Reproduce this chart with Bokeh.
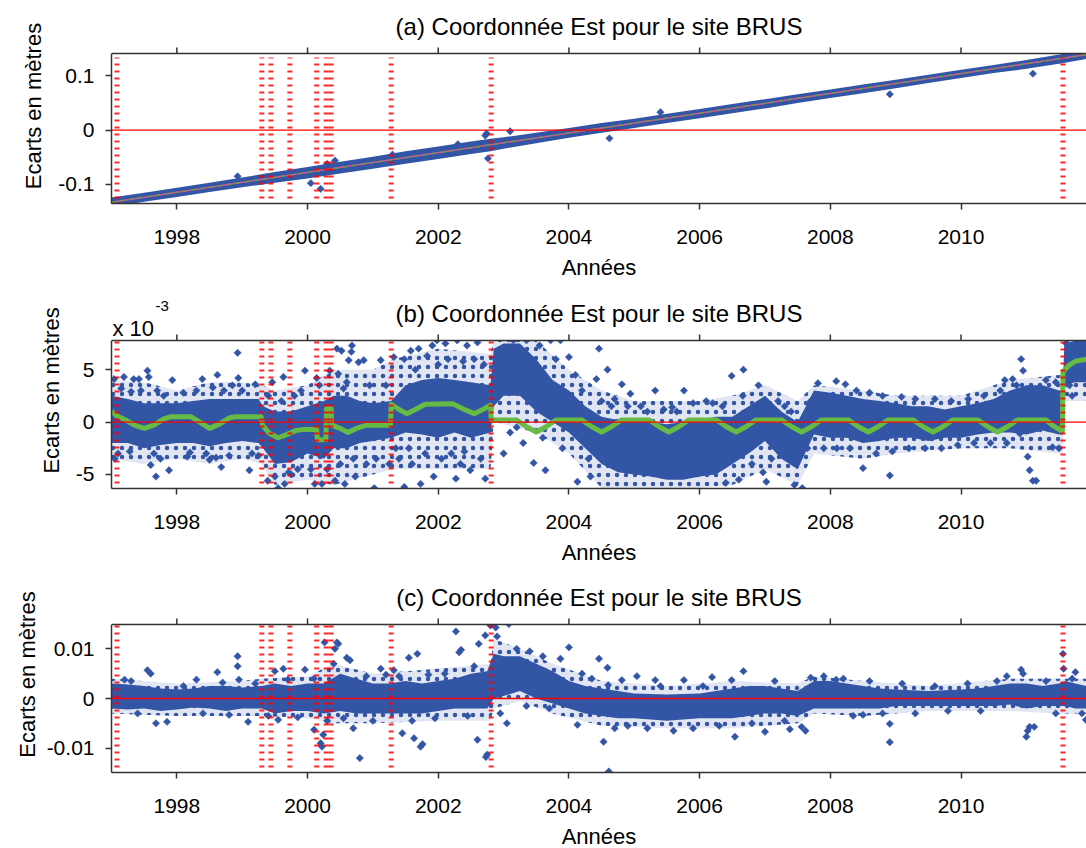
import numpy as np
from bokeh.plotting import figure
from bokeh.models import FixedTicker, Range1d, Span
from bokeh.core.properties import value
from bokeh.layouts import column
from bokeh.embed import file_html
from bokeh.resources import INLINE

# ---------------- data ----------------
TITLE = "Coordonnée Est pour le site BRUS"
X_LABEL = "Années"
Y_LABEL = "Ecarts en mètres"
X_START, X_END = 1997.0, 2011.92
YEAR_TICKS = [1998, 2000, 2002, 2004, 2006, 2008, 2010]
# dates of discontinuities (red dashed verticals)
EPOCHS = [1997.084, 1999.30, 1999.44, 1999.73, 2000.14, 2000.285, 2000.36, 2001.28, 2002.81, 2011.56]

# panel (a) : metres
A_Y = (-0.135, 0.1411)
A_TICKS = [-0.1, 0, 0.1]
A_TICK_LABELS = ["-0.1", "0", "0.1"]
A_TREND = [(1997.0, -0.1325), (2011.92, 0.139)]
A_CORE = [  # (year, low, high) of dense cloud
    (1997.0, -0.141, -0.124), (1997.5, -0.132, -0.115), (1998.0, -0.123, -0.106),
    (1998.5, -0.114, -0.097), (1999.0, -0.105, -0.087), (1999.5, -0.097, -0.077),
    (2000.0, -0.089, -0.068), (2000.5, -0.080, -0.058), (2001.0, -0.071, -0.049),
    (2001.5, -0.062, -0.039), (2002.0, -0.053, -0.030), (2002.5, -0.044, -0.021),
    (2002.8, -0.039, -0.016), (2003.0, -0.034, -0.013), (2003.5, -0.024, -0.005),
    (2004.0, -0.014, 0.004), (2004.5, -0.005, 0.013), (2005.0, 0.004, 0.021),
    (2005.5, 0.013, 0.030), (2006.0, 0.022, 0.039), (2006.5, 0.031, 0.048),
    (2007.0, 0.040, 0.057), (2007.5, 0.050, 0.066), (2008.0, 0.059, 0.075),
    (2008.5, 0.068, 0.084), (2009.0, 0.077, 0.093), (2009.5, 0.087, 0.102),
    (2010.0, 0.096, 0.111), (2010.5, 0.105, 0.120), (2011.0, 0.113, 0.129),
    (2011.55, 0.123, 0.140), (2011.92, 0.131, 0.147),
]
A_PTS = [(1997.0, -0.134), (2000.05, -0.0975), (2000.2, -0.108), (2000.3, -0.062),
         (2002.74, -0.006), (2002.76, -0.052), (2002.72, -0.010), (2003.1, -0.002),
         (2004.62, -0.015), (2008.91, 0.066), (2011.1, 0.104), (2000.42, -0.056),
         (2001.3, -0.045), (1998.93, -0.085), (2002.3, -0.026), (2005.4, 0.033)]

# panel (b) : units of 1e-3 m
B_Y = (-6.34, 7.78)
B_TICKS = [-5, 0, 5]
B_TICK_LABELS = ["-5", "0", "5"]
B_CORE = [
    (1997.0, -2.0, 2.5), (1997.25, -2.0, 2.2), (1997.5, -2.5, 1.8), (1997.75, -2.2, 1.8),
    (1998.0, -2.0, 1.8), (1998.25, -2.0, 2.0), (1998.5, -2.3, 2.2), (1998.75, -2.0, 2.2),
    (1999.0, -1.8, 2.2), (1999.25, -2.0, 2.2), (1999.32, -2.5, 1.5), (1999.5, -4.0, 1.0),
    (1999.75, -3.8, 1.0), (2000.0, -3.0, 1.5), (2000.25, -3.5, 2.0), (2000.4, -2.5, 2.5),
    (2000.6, -2.5, 2.5), (2000.8, -2.0, 2.0), (2001.0, -1.8, 1.8), (2001.28, -1.5, 2.0),
    (2001.5, -1.0, 3.5), (2001.75, -1.2, 4.0), (2002.0, -1.5, 4.2), (2002.25, -1.0, 4.0),
    (2002.5, -1.5, 3.8), (2002.8, -1.0, 3.5), (2002.85, 1.5, 7.0), (2003.0, 2.5, 7.5),
    (2003.25, 2.5, 7.5), (2003.5, 1.0, 6.0), (2003.75, 0.0, 4.0), (2004.0, -1.0, 3.0),
    (2004.25, -2.5, 1.5), (2004.5, -4.0, 0.5), (2004.75, -4.8, 0.2), (2005.0, -5.0, 0.0),
    (2005.25, -5.2, 0.0), (2005.5, -5.5, -0.2), (2005.75, -5.5, 0.0), (2006.0, -5.2, 0.2),
    (2006.25, -5.0, 0.5), (2006.5, -4.0, 0.5), (2006.75, -3.0, 1.5), (2007.0, -1.8, 2.5),
    (2007.25, -3.5, 1.0), (2007.5, -4.5, 0.0), (2007.75, -1.2, 3.0), (2008.0, -1.5, 2.8),
    (2008.25, -1.5, 2.5), (2008.5, -2.0, 2.2), (2008.75, -1.8, 2.0), (2009.0, -1.5, 1.8),
    (2009.25, -1.5, 1.5), (2009.5, -1.8, 1.5), (2009.75, -1.5, 1.2), (2010.0, -1.5, 1.5),
    (2010.25, -1.2, 1.8), (2010.5, -1.0, 2.2), (2010.75, -1.0, 3.0), (2011.0, -1.2, 3.5),
    (2011.25, -0.8, 3.5), (2011.5, -1.2, 3.0), (2011.56, -1.2, 3.0), (2011.58, 3.5, 7.5),
    (2011.75, 3.8, 7.75), (2011.92, 3.8, 7.75),
]
B_HALO = [  # looser part of the cloud
    (1997.0, -3.5, 4.0), (1997.5, -4.0, 3.8), (1998.0, -3.5, 3.0), (1998.5, -4.0, 3.8),
    (1999.0, -3.5, 3.8), (1999.3, -4.0, 3.5), (1999.5, -6.0, 3.0), (2000.0, -5.5, 3.5),
    (2000.4, -6.0, 5.0), (2001.0, -5.0, 5.0), (2001.3, -4.5, 6.0), (2002.0, -4.5, 7.0),
    (2002.8, -4.5, 6.5), (2002.85, 0.0, 7.75), (2003.5, -1.0, 7.75), (2004.0, -3.0, 5.0),
    (2004.5, -6.3, 3.0), (2005.0, -6.3, 2.0), (2006.0, -6.3, 2.0), (2006.5, -6.0, 2.5),
    (2007.0, -4.5, 3.5), (2007.5, -6.0, 2.0), (2007.75, -3.0, 3.5), (2008.5, -3.5, 3.0),
    (2009.0, -3.0, 2.5), (2010.0, -2.5, 2.5), (2010.75, -2.5, 4.0), (2011.5, -3.0, 4.5),
    (2011.56, -3.0, 4.5), (2011.58, 2.0, 7.75), (2011.92, 2.0, 7.75),
]
B_MODEL = [  # green model curve
    (1997.0, 1.0), (1997.08, 0.6), (1997.2, 0.25), (1997.35, -0.3), (1997.5, -0.6),
    (1997.65, -0.3), (1997.8, 0.3), (1997.9, 0.5), (1998.22, 0.5), (1998.35, 0.0),
    (1998.5, -0.6), (1998.65, -0.2), (1998.8, 0.4), (1998.9, 0.5), (1999.29, 0.5),
    (1999.31, -0.3), (1999.42, -1.1), (1999.55, -1.5), (1999.68, -1.2), (1999.82, -0.8),
    (1999.95, -0.7), (2000.14, -0.7), (2000.15, -1.7), (2000.28, -1.7), (2000.29, 1.3),
    (2000.36, 1.3), (2000.37, -0.3), (2000.5, -0.6), (2000.62, -1.0), (2000.75, -0.6),
    (2000.9, -0.3), (2001.27, -0.3), (2001.28, 1.7), (2001.4, 1.2), (2001.52, 0.8),
    (2001.65, 1.2), (2001.8, 1.7), (2002.22, 1.75), (2002.4, 1.2), (2002.55, 0.8),
    (2002.68, 1.2), (2002.8, 1.6), (2002.81, 0.2), (2003.2, 0.2), (2003.35, -0.45),
    (2003.5, -0.95), (2003.65, -0.45), (2003.8, 0.2), (2004.2, 0.2), (2004.35, -0.45),
    (2004.5, -0.95), (2004.65, -0.45), (2004.8, 0.2), (2005.23, 0.2), (2005.38, -0.45),
    (2005.53, -0.95), (2005.68, -0.45), (2005.83, 0.2), (2006.26, 0.2), (2006.41, -0.45),
    (2006.56, -0.95), (2006.71, -0.45), (2006.86, 0.2), (2007.26, 0.2), (2007.41, -0.45),
    (2007.56, -0.95), (2007.71, -0.45), (2007.86, 0.2), (2008.28, 0.2), (2008.43, -0.45),
    (2008.58, -0.95), (2008.73, -0.45), (2008.88, 0.2), (2009.27, 0.2), (2009.42, -0.45),
    (2009.57, -0.95), (2009.72, -0.45), (2009.87, 0.2), (2010.26, 0.2), (2010.41, -0.45),
    (2010.56, -0.95), (2010.71, -0.45), (2010.86, 0.2), (2011.3, 0.2), (2011.42, -0.4),
    (2011.55, -0.9), (2011.56, 4.8), (2011.65, 5.4), (2011.75, 5.8), (2011.92, 6.0),
]
B_PTS = [
    (1997.04, 4.1), (1997.19, 4.3), (1997.34, 4.1), (1997.42, 4.1), (1997.55, 4.9), (1997.57, 4.3),
    (1997.6, -4.1), (1997.68, -5.2), (1997.88, -4.6), (1997.93, 4.0), (1997.1, -3.0), (1997.15, 3.2),
    (1997.28, -2.8), (1997.45, 3.0), (1997.7, 3.0), (1997.75, -3.5), (1997.8, 2.5), (1997.05, -3.5),
    (1997.3, 2.9), (1997.65, -3.0),
    (1998.16, -3.3), (1998.39, 4.1), (1998.5, -3.6), (1998.62, 4.5), (1998.68, -4.3), (1998.93, 6.6),
    (1998.94, 4.2), (1998.1, 2.8), (1998.2, -2.9), (1998.3, 3.0), (1998.45, -3.0), (1998.55, 3.3),
    (1998.8, -3.2), (1998.85, 3.5), (1998.6, -3.4), (1998.72, 3.0),
    (1999.11, -4.6), (1999.0, 3.0), (1999.2, 3.6), (1999.15, -3.0), (1999.25, -3.2), (1999.39, -5.6),
    (1999.46, 3.8), (1999.5, -5.2), (1999.55, -6.3), (1999.63, 4.3), (1999.65, -5.9), (1999.71, -4.8),
    (1999.4, 2.5), (1999.6, 2.0), (1999.8, 2.5), (1999.85, -4.5), (1999.9, 3.0), (1999.96, 4.9),
    (1999.75, -5.0),
    (2000.11, -5.9), (2000.14, 4.2), (2000.22, -5.9), (2000.05, -4.5), (2000.18, 3.5), (2000.3, -4.5),
    (2000.34, 4.9), (2000.42, -5.6), (2000.45, 7.0), (2000.47, 4.6), (2000.52, 6.8), (2000.57, -5.9),
    (2000.63, 5.9), (2000.67, 6.7), (2000.68, 7.3), (2000.73, -5.2), (2000.78, 5.7), (2000.5, -4.0),
    (2000.6, 3.8), (2000.7, -3.5), (2000.55, 3.2), (2000.86, 5.9), (2000.9, -4.0), (2000.95, 3.5),
    (2001.02, -6.3), (2001.12, 5.9), (2001.05, -3.5), (2001.2, 3.5), (2001.25, -4.0), (2001.32, 6.2),
    (2001.48, 6.0), (2001.48, -6.2), (2001.58, 6.8), (2001.7, 7.0), (2001.73, -5.9), (2001.83, 6.3),
    (2001.91, 7.3), (2001.93, -5.2), (2001.98, 7.8), (2001.4, -3.5), (2001.6, -4.0), (2001.35, -2.5),
    (2001.8, -3.0), (2001.65, 5.0), (2001.55, -2.5),
    (2002.11, 7.5), (2002.29, 7.8), (2002.44, 7.3), (2002.6, 7.6), (2002.27, -5.4), (2002.34, -4.0),
    (2002.49, -4.6), (2002.72, -5.4), (2002.05, -3.5), (2002.15, 6.0), (2002.2, -3.0), (2002.38, 5.8),
    (2002.55, 6.0), (2002.65, -3.5), (2002.7, 5.5), (2002.4, -2.8), (2002.0, 5.5),
    (2003.0, -3.0), (2003.46, -3.9), (2003.64, -4.6), (2003.72, 7.8), (2003.87, 7.8), (2003.1, -1.0),
    (2003.2, -0.5), (2003.3, -2.0), (2003.55, 7.3), (2003.6, -1.5), (2003.8, 6.0), (2003.9, -2.5),
    (2003.15, 7.8), (2003.35, 7.8),
    (2004.0, 6.2), (2004.13, -5.7), (2004.33, -5.2), (2004.42, 4.1), (2004.46, 7.0), (2004.59, 5.0),
    (2004.81, 3.6), (2004.94, 2.7), (2004.1, 4.5), (2004.2, 3.0), (2004.3, -3.5), (2004.5, 2.0),
    (2004.65, 1.5), (2004.7, 2.2), (2004.9, 1.5),
    (2005.32, 3.0), (2005.58, 1.4), (2005.76, 3.0), (2005.1, 1.5), (2005.2, 1.0), (2005.45, 1.2),
    (2005.65, 1.0), (2005.9, 1.8), (2006.1, 2.0), (2006.2, 1.8),
    (2006.49, 4.4), (2006.66, 2.5), (2006.67, 5.0), (2006.97, -4.8), (2007.02, -5.7), (2006.35, 1.5),
    (2006.6, -5.5), (2006.8, -4.0), (2006.9, 3.5), (2006.4, -5.8),
    (2007.45, -6.0), (2007.57, -6.3), (2007.81, 3.7), (2007.1, -3.5), (2007.2, 2.0), (2007.3, 1.5),
    (2007.4, 1.0), (2007.65, -2.5), (2007.7, 2.0), (2007.9, -2.5),
    (2008.09, 3.9), (2008.23, 3.6), (2008.5, -4.4), (2008.91, -5.1), (2008.1, -2.5), (2008.3, -2.5),
    (2008.4, 3.0), (2008.6, 2.8), (2008.7, -3.0), (2008.8, 2.5), (2008.95, -2.8),
    (2009.09, 2.4), (2009.2, -2.5), (2009.3, 2.2), (2009.45, -2.5), (2009.6, 2.2), (2009.7, -2.5),
    (2009.85, 2.0), (2009.95, -2.2),
    (2010.11, 2.2), (2010.2, -2.0), (2010.35, 2.5), (2010.45, -2.0), (2010.6, 3.0), (2010.67, 4.0),
    (2010.79, 4.1), (2010.9, -1.1), (2010.92, 6.0), (2010.95, 4.9), (2010.7, -2.0), (2010.85, 3.5),
    (2011.02, -3.3), (2011.05, -4.6), (2011.1, -5.6), (2011.15, -5.6), (2011.21, 3.0), (2011.4, -2.4),
    (2011.3, 4.0), (2011.45, 3.8), (2011.5, -2.5), (2011.61, 7.5), (2011.66, 3.5), (2011.76, 7.8),
    (2011.89, 4.6), (2011.7, 2.5),
]

# panel (c) : values typed in mm, plotted in metres
C_Y = (-0.0149, 0.0149)
C_TICKS = [-0.01, 0, 0.01]
C_TICK_LABELS = ["-0.01", "0", "0.01"]
C_CORE_MM = [
    (1997.0, -2.0, 3.0), (1997.25, -2.2, 2.8), (1997.5, -2.0, 2.5), (1997.75, -2.5, 2.0),
    (1998.0, -2.2, 1.8), (1998.25, -1.8, 2.0), (1998.5, -2.0, 2.5), (1998.75, -2.5, 2.5),
    (1999.0, -2.0, 2.2), (1999.3, -2.0, 2.5), (1999.5, -3.0, 3.0), (1999.75, -2.5, 2.5),
    (2000.0, -2.5, 3.0), (2000.25, -3.0, 3.0), (2000.5, -2.5, 5.0), (2000.75, -3.0, 4.0),
    (2001.0, -3.0, 3.0), (2001.25, -3.0, 3.0), (2001.5, -3.0, 3.5), (2001.75, -3.0, 3.0),
    (2002.0, -2.5, 3.5), (2002.25, -2.0, 4.0), (2002.5, -2.0, 5.0), (2002.75, -2.0, 5.5),
    (2002.85, 0.0, 9.0), (2003.0, 0.5, 8.5), (2003.25, 1.5, 8.5), (2003.5, 0.0, 7.0),
    (2003.75, -1.0, 5.5), (2004.0, -2.0, 3.5), (2004.25, -3.0, 2.5), (2004.5, -3.5, 2.0),
    (2004.75, -4.0, 1.5), (2005.0, -4.0, 1.0), (2005.5, -4.5, 0.8), (2006.0, -4.0, 1.0),
    (2006.25, -4.0, 1.5), (2006.5, -4.0, 2.0), (2006.75, -3.5, 2.5), (2007.0, -3.0, 2.5),
    (2007.25, -3.0, 2.0), (2007.5, -3.5, 1.5), (2007.75, -2.0, 3.5), (2008.0, -2.0, 3.5),
    (2008.25, -2.0, 3.0), (2008.5, -2.0, 2.5), (2008.75, -2.0, 2.0), (2009.0, -1.5, 1.8),
    (2009.5, -1.5, 1.5), (2010.0, -1.5, 1.8), (2010.25, -1.5, 2.0), (2010.5, -1.5, 2.5),
    (2010.75, -1.2, 3.0), (2011.0, -2.0, 3.0), (2011.25, -1.5, 2.5), (2011.5, -1.5, 3.0),
    (2011.6, -1.5, 3.5), (2011.75, -2.0, 3.0), (2011.92, -2.0, 2.5),
]
C_HALO_MM = [
    (1997.0, -3.0, 4.0), (1998.0, -3.5, 3.0), (1999.0, -3.5, 3.5), (1999.3, -3.5, 4.0),
    (2000.0, -4.0, 4.5), (2000.4, -5.0, 7.0), (2001.0, -5.0, 5.0), (2002.0, -4.5, 6.0),
    (2002.8, -4.5, 7.0), (2002.85, -2.0, 12.0), (2003.25, -0.5, 10.0), (2003.75, -3.0, 7.0),
    (2004.5, -5.5, 3.5), (2005.5, -6.0, 2.5), (2006.5, -6.0, 3.5), (2007.5, -5.0, 3.0),
    (2007.75, -3.0, 4.5), (2008.5, -3.5, 3.5), (2009.5, -2.5, 2.5), (2010.75, -2.5, 4.0),
    (2011.5, -3.0, 4.0), (2011.92, -3.0, 4.0),
]
C_PTS_MM = [
    (1997.55, 5.7), (1997.6, 5.0), (1997.68, -5.0), (1997.85, -4.7), (1998.3, 3.8), (1998.62, 5.3),
    (1998.93, 8.5), (1998.93, 6.5), (1998.95, 3.8), (1999.09, -4.7), (1999.5, 5.5), (1999.63, 6.0),
    (1999.55, -4.3), (1999.96, 5.8), (2000.1, -6.3), (2000.2, -9.0), (2000.22, -9.7), (2000.24, -7.3),
    (2000.26, 11.3), (2000.45, 11.3), (2000.47, 11.0), (2000.42, 10.0), (2000.4, 7.0), (2000.65, 7.7),
    (2000.6, 8.2), (2000.8, -12.0), (2000.7, -6.0), (2001.12, 6.0), (2001.32, 5.7), (2001.55, 8.2),
    (2001.68, 9.0), (2001.45, -7.0), (2001.63, -8.0), (2001.73, -9.7), (2001.76, -9.2), (2002.27, 13.5),
    (2002.32, 9.3), (2002.35, 9.8), (2002.62, 11.0), (2002.72, 12.7), (2002.75, -11.3), (2002.73, -11.8),
    (2002.6, -8.3), (2002.8, 14.7), (2002.88, 14.3), (2003.08, 15.0), (2002.9, 12.5), (2002.95, -3.0),
    (2003.05, -5.0), (2003.87, 8.0), (2004.0, 10.3), (2004.46, 8.0), (2004.59, 6.2), (2004.6, 2.7),
    (2004.81, 3.7), (2005.04, 4.5), (2005.32, 3.7), (2005.76, 3.7), (2006.19, 4.3), (2004.61, -14.7),
    (2004.53, -8.7), (2004.13, -5.3), (2006.67, 5.5), (2006.49, 3.7), (2006.54, -7.7), (2007.0, -6.7),
    (2007.38, -6.2), (2007.56, -5.7), (2007.62, -6.5), (2008.09, 3.8), (2008.91, -5.1), (2008.91, -8.8),
    (2008.5, -3.3), (2010.92, 5.8), (2010.95, 5.0), (2011.0, -7.7), (2011.02, -6.5), (2011.05, -5.7),
    (2011.12, -5.7), (2011.56, 9.0), (2011.57, 6.0), (2011.75, 5.3), (2011.91, -4.3),
    (1997.2, 3.8), (1997.4, -3.0), (1997.3, 3.5), (1998.1, 2.5), (1998.4, -3.0), (1998.7, 3.2),
    (1998.8, -3.3), (1999.2, 3.0), (1999.4, -3.5), (1999.7, 3.8), (1999.85, -3.8), (2000.1, 4.0),
    (2000.3, -4.5), (2000.55, -4.0), (2000.9, 4.5), (2001.0, -4.5), (2001.2, 4.8), (2001.4, 4.5),
    (2001.6, -4.5), (2001.85, 4.8), (2001.95, -4.0), (2002.1, 5.0), (2002.45, -3.5), (2002.55, 6.5),
    (2003.2, 10.0), (2003.4, 9.5), (2003.6, 8.5), (2003.7, -2.0), (2003.35, -1.5), (2004.2, 5.0),
    (2004.35, 4.0), (2004.7, -6.0), (2004.9, -5.5), (2005.2, -6.0), (2005.4, 2.5), (2005.6, -6.5),
    (2005.9, -6.0), (2006.05, 2.5), (2006.3, -5.5), (2006.8, -5.0), (2007.15, 3.5), (2007.3, -4.5),
    (2007.7, 4.2), (2007.9, 4.5), (2008.2, 4.0), (2008.35, -3.5), (2008.6, 3.5), (2008.8, -3.0),
    (2009.1, 3.0), (2009.3, -3.0), (2009.6, 2.5), (2009.8, -2.5), (2010.1, 3.0), (2010.3, -2.5),
    (2010.55, 3.5), (2010.7, 4.5), (2011.3, 3.5), (2011.45, -3.0), (2011.7, 4.0), (2011.85, -3.0),
]
MM = 1e-3

# ---------------- style ----------------
FONT = "Liberation Sans"
BLUE = "#3355a5"
GREEN = "#66bb44"
RED = "#ff0000"
PINK = "#e0509f"
AXC = "#333333"
FRAME_W = 975


def cols(rows):
    return [list(c) for c in zip(*rows)]


def style_axis(ax):
    ax.axis_line_color = AXC
    ax.axis_line_width = 1.5
    ax.major_tick_line_color = AXC
    ax.major_tick_line_width = 1.5
    ax.major_tick_in = 0
    ax.major_tick_out = 6
    ax.minor_tick_line_color = None
    ax.major_label_text_font = FONT
    ax.major_label_text_font_size = "21px"
    ax.major_label_text_color = "black"
    ax.axis_label_text_font = FONT
    ax.axis_label_text_font_size = "22px"
    ax.axis_label_text_font_style = "normal"
    ax.axis_label_text_color = "black"


class Panel:
    """One sub-plot: box of box_h px, with an extra strip of ext px above it for the title."""

    def __init__(self, letter, yr, yticks, ylabels, box_h, ext, b_top, b_bot, ylab_standoff):
        self.letter = letter
        self.y0, self.y1 = yr
        self.px = (self.y1 - self.y0) / box_h
        self.ytop = self.y1 + ext * self.px
        p = figure(frame_width=FRAME_W, frame_height=box_h + ext,
                   min_border_left=111, min_border_right=0,
                   min_border_top=b_top, min_border_bottom=b_bot,
                   x_range=Range1d(X_START, X_END), y_range=Range1d(self.y0, self.ytop),
                   output_backend="svg", toolbar_location=None)
        p.grid.visible = False
        p.outline_line_color = None
        p.background_fill_color = "white"
        p.border_fill_color = "white"

        xa = p.xaxis[0]
        xa.ticker = FixedTicker(ticks=YEAR_TICKS)
        xa.axis_label = X_LABEL
        style_axis(xa)
        xa.major_label_standoff = 20
        xa.axis_label_standoff = 8

        ya = p.yaxis[0]
        ya.ticker = FixedTicker(ticks=yticks)
        ya.major_label_overrides = dict(zip(yticks, ylabels))
        ya.axis_label = Y_LABEL
        ya.bounds = (self.y0, self.y1)
        style_axis(ya)
        ya.major_label_standoff = 11
        ya.axis_label_standoff = ylab_standoff
        self.p = p

    def zero(self):
        self.p.add_layout(Span(location=0, dimension="width", line_color=RED, line_width=1.3))

    def cloud(self, rows, scale=1.0, loose=False):
        t, lo, hi = cols(rows)
        lo = [v * scale for v in lo]
        hi = [v * scale for v in hi]
        if loose:
            self.p.varea(x=t, y1=lo, y2=hi, fill_color=BLUE, fill_alpha=0.15,
                         hatch_pattern="dot", hatch_color=BLUE, hatch_scale=9,
                         hatch_weight=3.5, hatch_alpha=1.0)
        else:
            self.p.varea(x=t, y1=lo, y2=hi, fill_color=BLUE)

    def epochs(self, top_px, bot_px):
        lo = self.y0 + bot_px * self.px
        hi = self.y1 - top_px * self.px
        n = len(EPOCHS)
        self.p.segment(x0=EPOCHS, x1=EPOCHS, y0=[lo] * n, y1=[hi] * n,
                       line_color=RED, line_width=5, line_dash="2 5", line_alpha=0.85,
                       line_cap="butt")

    def points(self, xs, ys):
        self.p.scatter(xs, ys, marker="square", angle=np.pi / 4, size=5.2,
                       fill_color=BLUE, line_color=BLUE, line_width=0.5)

    def finish(self):
        p, y1, px = self.p, self.y1, self.px
        # white strip above the box (hides marks poking out of the box)
        p.varea(x=[X_START, X_END], y1=[y1, y1], y2=[self.ytop, self.ytop], fill_color="white")
        # top edge of the box with its outward ticks
        p.segment(x0=[X_START], x1=[X_END], y0=[y1], y1=[y1], line_color=AXC, line_width=1.5)
        n = len(YEAR_TICKS)
        p.segment(x0=YEAR_TICKS, x1=YEAR_TICKS, y0=[y1] * n, y1=[y1 + 6 * px] * n,
                  line_color=AXC, line_width=1.5)
        p.text(x=[(X_START + X_END) / 2], y=[y1 + 27 * px], text=[f"({self.letter}) {TITLE}"],
               text_font=value(FONT), text_font_size=value("24px"), text_color="black",
               text_align="center", text_baseline="middle")


# ---------------- panel (a) ----------------
A = Panel("a", A_Y, A_TICKS, A_TICK_LABELS, 150, 45, 8, 87, 9)
A.zero()
A.cloud(A_CORE)
xs, ys = cols(A_PTS)
A.points(xs, ys)
tt, tv = cols(A_TREND)
A.p.line(tt, tv, line_color=PINK, line_width=1.5)
A.p.line(tt, tv, line_color="#55aa33", line_width=1.5, line_dash="4 5")
A.epochs(4, 5)
A.finish()

# ---------------- panel (b) ----------------
B = Panel("b", B_Y, B_TICKS, B_TICK_LABELS, 148, 48, 2, 87, 9)
B.cloud(B_HALO, loose=True)
B.cloud(B_CORE)
xs, ys = cols(B_PTS)
B.points(xs, ys)
B.zero()
mt, mv = cols(B_MODEL)
B.p.line(mt, mv, line_color=GREEN, line_width=5, line_join="round")
B.epochs(1, 5)
B.finish()
B.p.text(x=[X_START], y=[B.y1 + 12 * B.px], text=["x 10"], x_offset=1,
         text_font=value(FONT), text_font_size=value("22px"), text_color="black",
         text_align="left", text_baseline="alphabetic")
B.p.text(x=[X_START], y=[B.y1 + 35 * B.px], text=["-3"], x_offset=44,
         text_font=value(FONT), text_font_size=value("15px"), text_color="black",
         text_align="left", text_baseline="alphabetic")

# ---------------- panel (c) ----------------
C = Panel("c", C_Y, C_TICKS, C_TICK_LABELS, 148, 48, 1, 76, 4)
C.cloud(C_HALO_MM, scale=MM, loose=True)
C.cloud(C_CORE_MM, scale=MM)
xs, ys = cols(C_PTS_MM)
C.points(xs, [v * MM for v in ys])
C.zero()
C.epochs(1, 5)
C.finish()

layout = column(A.p, B.p, C.p)
open("out.html", "w").write(file_html(layout, INLINE))
